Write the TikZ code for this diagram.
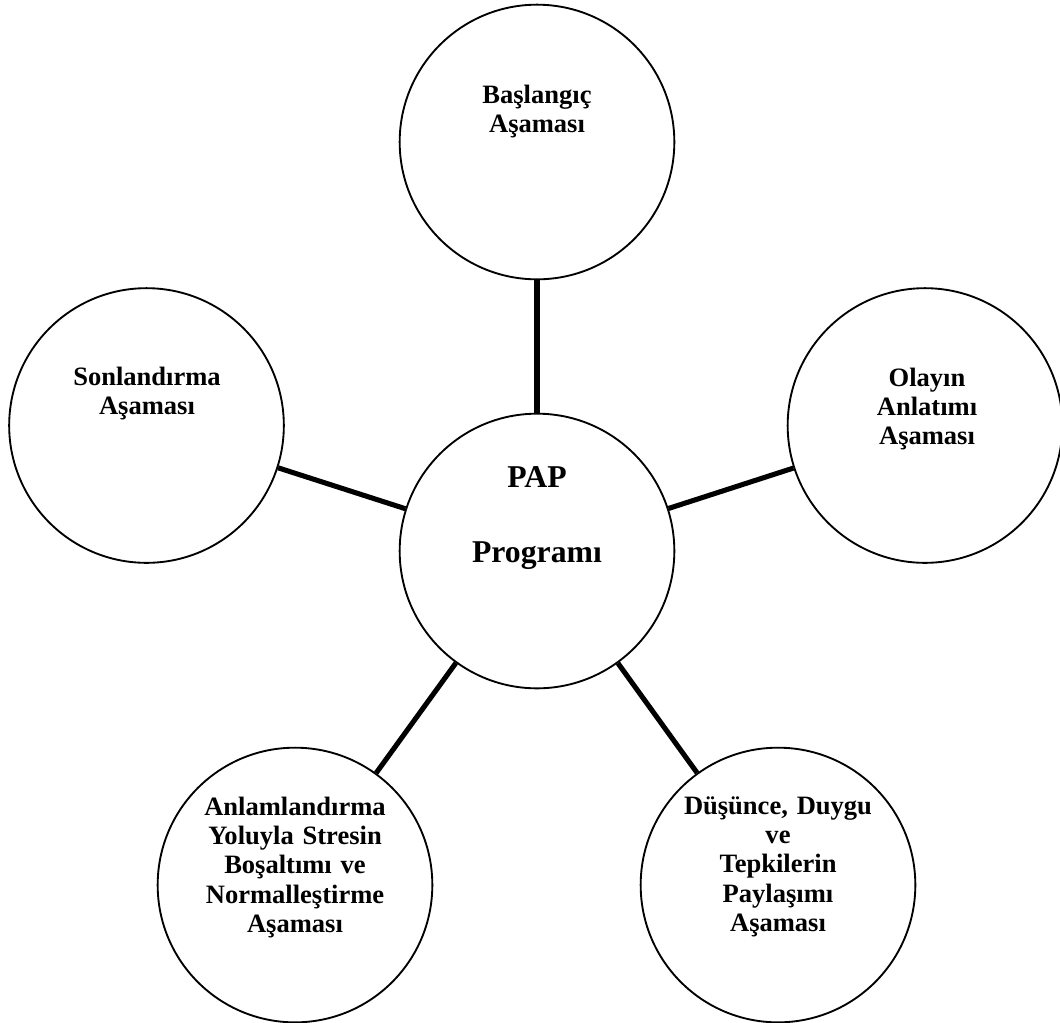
\documentclass[tikz,border=0pt]{standalone}
\usepackage{fontspec}
\setmainfont{Liberation Serif}
\begin{document}
\begin{tikzpicture}[x=0.75pt,y=-0.75pt,
  phase/.style={draw=black,line width=1.4pt,circle,minimum size=206pt,inner sep=0pt,fill=white},
  conn/.style={draw=black,line width=3.8pt},
  lbl/.style={anchor=base,text width=200pt,align=center,inner sep=0pt,
    font=\fontsize{19.9pt}{22.1pt}\selectfont\bfseries},
  bigl/.style={anchor=base,inner sep=0pt,font=\fontsize{23.8pt}{26pt}\selectfont\bfseries}]
\useasboundingbox (0,0) rectangle (1060,1022);
\node[phase] (T) at (537,142) {};
\node[phase] (L) at (146.5,425.5) {};
\node[phase] (R) at (925,425.5) {};
\node[phase] (C) at (537,551) {};
\node[phase] (BL) at (295,885) {};
\node[phase] (BR) at (778,885) {};
\draw[conn] (T) -- (C);
\draw[conn] (L) -- (C);
\draw[conn] (R) -- (C);
\draw[conn] (BL) -- (C);
\draw[conn] (BR) -- (C);
\node[lbl] (tT) at (537,103) {Başlangıç\\Aşaması};
\node[lbl] (tL) at (147,385) {Sonlandırma\\Aşaması};
\node[lbl] (tR) at (927,386) {Olayın\\Anlatımı\\Aşaması};
\node[bigl] (tC1) at (537,487) {PAP};
\node[bigl] (tC2) at (537,562) {Programı};
\node[lbl] (tBL) at (295,815) {Anlamlandırma\\Yoluyla Stresin\\Boşaltımı ve\\Normalleştirme\\Aşaması};
\node[lbl] (tBR) at (778,814) {Düşünce, Duygu\\ve\\Tepkilerin\\Paylaşımı\\Aşaması};
\end{tikzpicture}
\end{document}
